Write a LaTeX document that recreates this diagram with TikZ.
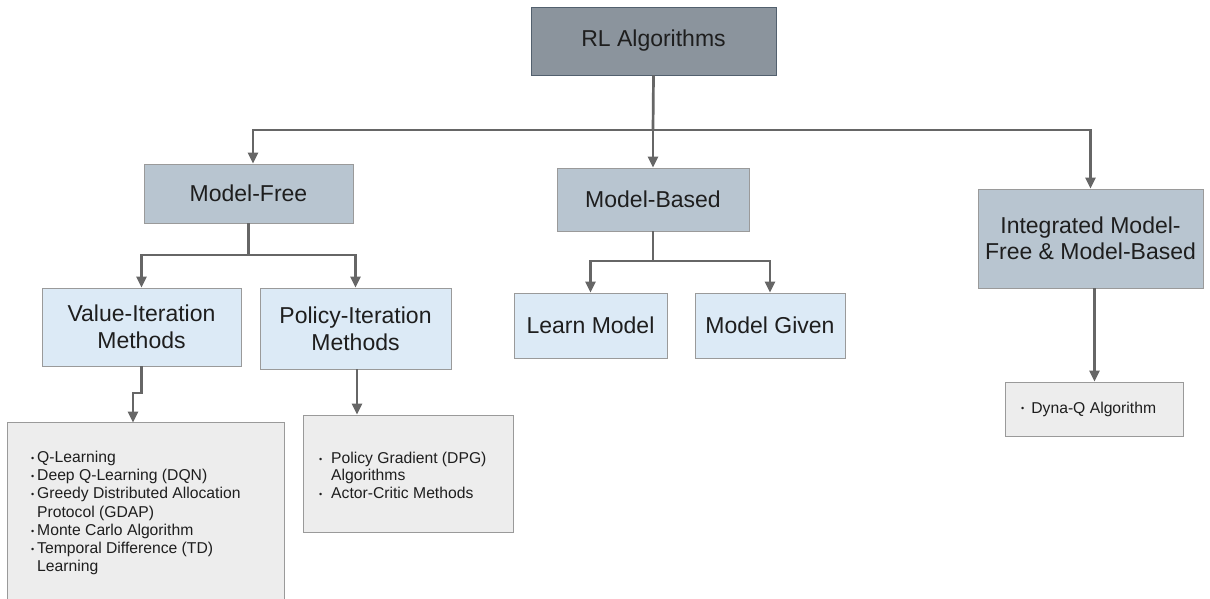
\documentclass[tikz,border=0pt]{standalone}
\usepackage{fontspec}
\setmainfont{Liberation Sans}
\usetikzlibrary{arrows.meta,calc}

\definecolor{rootfill}{HTML}{8B949D}
\definecolor{rootedge}{HTML}{52606E}
\definecolor{catfill}{HTML}{B8C5D0}
\definecolor{subfill}{HTML}{DCEAF6}
\definecolor{listfill}{HTML}{EDEDED}
\definecolor{boxedge}{HTML}{9A9A9A}
\definecolor{wire}{HTML}{666666}
\definecolor{ink}{HTML}{1E1E1E}

% small list bullet
\newcommand\bdot{{\fontsize{9}{9}\selectfont\raisebox{1.2pt}{•}}}

\tikzset{
  box/.style={rectangle, draw=boxedge, line width=0.8pt, inner sep=0pt,
    text=ink, align=center, font=\fontsize{23}{27}\selectfont},
  root/.style={box, fill=rootfill, draw=rootedge},
  cat/.style={box, fill=catfill},
  sub/.style={box, fill=subfill},
  listbox/.style={box, fill=listfill},
  listtext/.style={inner sep=0pt, anchor=north west, text=ink, align=left,
    font=\fontsize{15.7}{18.2}\selectfont},
  conn/.style={draw=wire, line width=2.7pt},
  arr/.style={conn, -{Triangle[width=10pt,length=11pt]}},
}

\begin{document}
\begin{tikzpicture}[x=1pt,y=-1pt]
\useasboundingbox[fill=white] (0,0) rectangle (1210,599);

% --- boxes -------------------------------------------------------------
\node[root, minimum width=245pt, minimum height=68pt] (RL) at (653.5,41) {RL Algorithms};

\node[cat, minimum width=209pt, minimum height=59pt] (MF) at (248.5,193.5) {Model-Free};
\node[cat, minimum width=192pt, minimum height=63pt] (MB) at (653,199.5) {Model-Based};
\node[cat, minimum width=225pt, minimum height=99pt, font=\fontsize{23}{26}\selectfont]
  (IM) at (1090.5,238.5) {Integrated Model-\\Free \& Model-Based};

\node[sub, minimum width=199pt, minimum height=78pt] (VI) at (141.5,327) {Value-Iteration\\Methods};
\node[sub, minimum width=191pt, minimum height=81pt] (PI) at (355.5,328.5) {Policy-Iteration\\Methods};
\node[sub, minimum width=153pt, minimum height=65pt] (LM) at (590.5,325.5) {Learn Model};
\node[sub, minimum width=150pt, minimum height=65pt] (MG) at (770,325.5) {Model Given};

% list boxes (the first one runs off the lower edge)
\node[listbox, draw=none, minimum width=276pt, minimum height=176pt] (L1) at (146,511) {};
\draw[boxedge, line width=0.8pt] (L1.south west) -- (L1.north west) -- (L1.north east) -- (L1.south east);
\node[listbox, minimum width=210pt, minimum height=117pt] (L2) at (408,473.5) {};
\node[listbox, minimum width=178pt, minimum height=54pt] (L3) at (1094.5,409) {};

% --- list contents -----------------------------------------------------
\node[listtext] (T1) at (31,449.5) {%
  \begin{tabular}{@{}p{6pt}@{}l@{}}
  \bdot & Q-Learning\\
  \bdot & Deep Q-Learning (DQN)\\
  \bdot & Greedy Distributed Allocation\\
        & Protocol (GDAP)\\
  \bdot & Monte Carlo Algorithm\\
  \bdot & Temporal Difference (TD)\\
        & Learning
  \end{tabular}};

\node[listtext, font=\fontsize{15.7}{17.5}\selectfont] (T2) at (319,451) {%
  \begin{tabular}{@{}p{12pt}@{}l@{}}
  \bdot & Policy Gradient (DPG)\\
        & Algorithms\\
  \bdot & Actor-Critic Methods
  \end{tabular}};

\node[listtext, anchor=west] (T3) at (1021,409) {\bdot\hspace{7pt}Dyna-Q Algorithm};

% --- connectors --------------------------------------------------------
\coordinate (j0) at (653,130);
\draw[conn] (RL.south) -- (j0);
\draw[arr] (j0) -| ([xshift=4.5pt]MF.north);
\draw[arr] (j0) -- (MB.north);
\draw[arr] (j0) -| (IM.north);

\coordinate (j1) at (248.5,255);
\draw[conn] (MF.south) -- (j1);
\draw[arr] (j1) -| (VI.north);
\draw[arr] (j1) -| (PI.north);

\coordinate (j2) at (141.5,393);
\coordinate (j3) at (133,393);
\draw[arr] (VI.south) -- (j2) -- (j3) -- (j3 |- L1.north);

\draw[arr] ([xshift=1.5pt]PI.south) -- ([xshift=1.5pt]PI.south |- L2.north);

\coordinate (j4) at (653,261);
\draw[conn] (MB.south) -- (j4);
\draw[arr] (j4) -| (LM.north);
\draw[arr] (j4) -| (MG.north);

\draw[arr] (L3.north |- IM.south) -- (L3.north);
\end{tikzpicture}
\end{document}
